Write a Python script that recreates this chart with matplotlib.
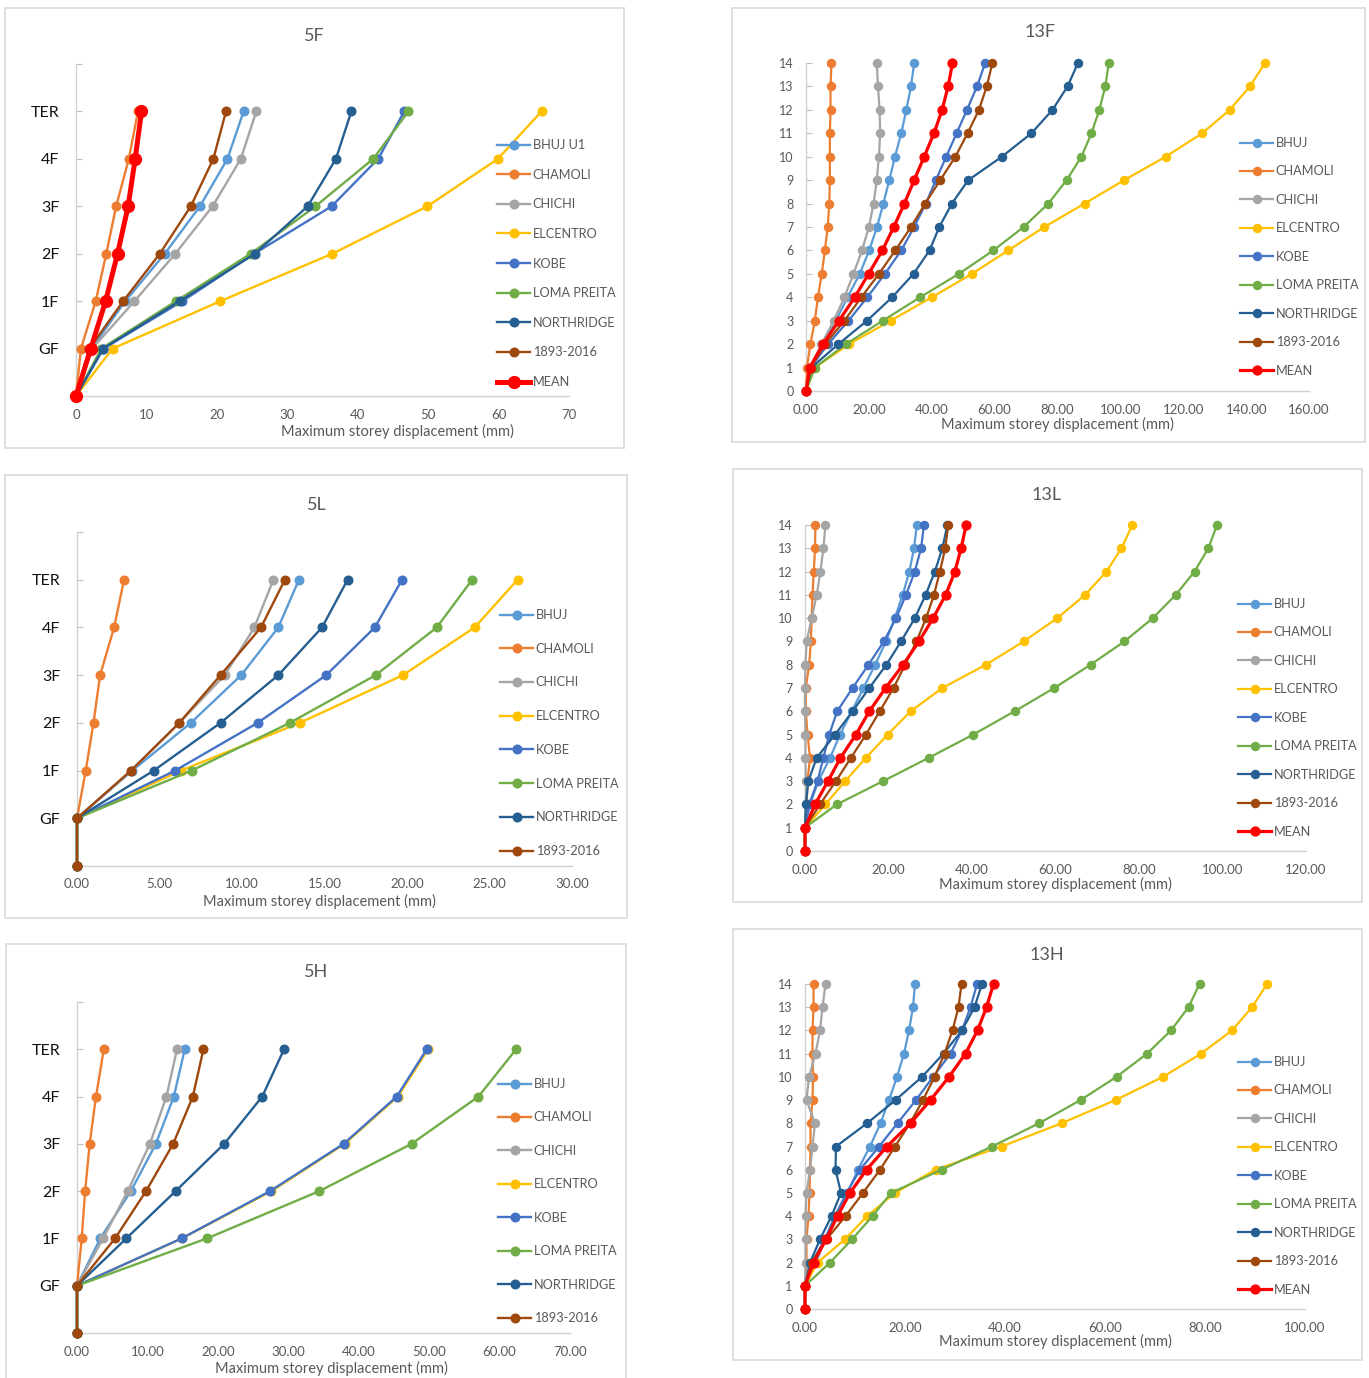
import matplotlib.pyplot as plt
from matplotlib.patches import Rectangle

plt.rcParams['font.family'] = ['Lato', 'DejaVu Sans']

W, H = 1369, 1378

COLORS = {
    'BHUJ': '#5B9BD5', 'BHUJ U1': '#5B9BD5', 'CHAMOLI': '#ED7D31', 'CHICHI': '#A5A5A5',
    'ELCENTRO': '#FFC000', 'KOBE': '#4472C4', 'LOMA PREITA': '#70AD47',
    'NORTHRIDGE': '#255E91', '1893-2016': '#9E480E', 'MEAN': '#FF0000',
}

STOREYS_5 = ['', 'GF', '1F', '2F', '3F', '4F', 'TER']
FLOORS_13 = list(range(15))
XLABEL = 'Maximum storey displacement (mm)'

# 5-storey, F
disp_5f = {
    'BHUJ U1': [0, 2.2, 7.0, 12.6, 17.6, 21.5, 23.8],
    'CHAMOLI': [0, 0.7, 2.8, 4.3, 5.7, 7.5, 8.8],
    'CHICHI': [0, 2.3, 8.3, 14.1, 19.4, 23.4, 25.6],
    'ELCENTRO': [0, 5.2, 20.5, 36.4, 49.9, 59.9, 66.1],
    'KOBE': [0, 3.9, 15.1, 25.3, 36.3, 42.9, 46.6],
    'LOMA PREITA': [0, 3.6, 14.2, 24.8, 34.0, 42.2, 47.2],
    'NORTHRIDGE': [0, 3.85, 14.7, 25.4, 32.9, 36.9, 39.1],
    '1893-2016': [0, 1.9, 6.7, 11.9, 16.3, 19.5, 21.3],
    'MEAN': [0, 2.1, 4.2, 5.9, 7.4, 8.4, 9.3],
}

# 5-storey, L
disp_5l = {
    'BHUJ': [0, 0, 3.35, 6.9, 9.95, 12.2, 13.45],
    'CHAMOLI': [0, 0, 0.53, 1.0, 1.4, 2.25, 2.85],
    'CHICHI': [0, 0, 3.3, 6.2, 8.95, 10.75, 11.9],
    'ELCENTRO': [0, 0, 6.3, 13.5, 19.75, 24.1, 26.7],
    'KOBE': [0, 0, 5.95, 10.95, 15.1, 18.05, 19.7],
    'LOMA PREITA': [0, 0, 6.95, 12.9, 18.1, 21.8, 23.95],
    'NORTHRIDGE': [0, 0, 4.65, 8.7, 12.2, 14.85, 16.4],
    '1893-2016': [0, 0, 3.27, 6.2, 8.7, 11.15, 12.6],
}

# 5-storey, H
disp_5h = {
    'BHUJ': [0, 0, 3.3, 7.65, 11.2, 13.75, 15.3],
    'CHAMOLI': [0, 0, 0.67, 1.15, 1.8, 2.7, 3.8],
    'CHICHI': [0, 0, 3.7, 7.2, 10.35, 12.7, 14.2],
    'ELCENTRO': [0, 0, 14.9, 27.6, 38.0, 45.55, 49.85],
    'KOBE': [0, 0, 14.85, 27.4, 37.85, 45.4, 49.65],
    'LOMA PREITA': [0, 0, 18.45, 34.4, 47.5, 57.0, 62.35],
    'NORTHRIDGE': [0, 0, 7.0, 14.0, 20.9, 26.3, 29.4],
    '1893-2016': [0, 0, 5.4, 9.8, 13.65, 16.45, 17.95],
}

# 13-storey, F
disp_13f = {
    'BHUJ': [0, 1.4, 5.6, 9.5, 13.2, 17.1, 20.1, 22.6, 24.6, 26.5, 28.3, 30.3, 31.9, 33.4, 34.4],
    'CHAMOLI': [0, 0.3, 1.4, 2.8, 3.8, 5.0, 6.0, 6.9, 7.4, 7.6, 7.6, 7.6, 7.8, 7.8, 8.1],
    'CHICHI': [0, 1.4, 4.9, 8.8, 12.2, 15.1, 17.8, 20.0, 21.5, 22.5, 23.2, 23.6, 23.4, 22.9, 22.5],
    'ELCENTRO': [0, 2.8, 13.7, 26.9, 40.0, 52.8, 64.3, 75.8, 88.6, 101.2, 114.4, 126.0, 134.8, 141.2, 146.0],
    'KOBE': [0, 1.4, 7.0, 13.5, 19.5, 25.1, 30.3, 34.4, 38.1, 41.3, 44.6, 47.9, 51.2, 54.4, 57.0],
    'LOMA PREITA': [0, 2.8, 12.7, 24.4, 36.3, 48.6, 59.6, 69.2, 77.1, 82.9, 87.6, 90.8, 93.3, 95.2, 96.3],
    'NORTHRIDGE': [0, 1.7, 10.3, 19.4, 27.4, 34.2, 39.3, 42.4, 46.4, 51.6, 62.3, 71.7, 78.4, 83.2, 86.5],
    '1893-2016': [0, 1.5, 6.1, 12.2, 17.6, 23.2, 28.4, 33.4, 37.9, 42.7, 47.5, 51.4, 55.0, 57.5, 59.3],
    'MEAN': [0, 1.2, 5.4, 10.5, 15.5, 19.9, 24.3, 27.9, 31.3, 34.4, 37.6, 40.7, 43.3, 45.2, 46.6],
}

# 13-storey, L
disp_13l = {
    'BHUJ': [0, 0, 1.2, 3.2, 6.0, 8.4, 11.2, 14.0, 16.8, 19.4, 21.5, 23.4, 25.0, 26.1, 26.8],
    'CHAMOLI': [0, 0, 0.4, 0.6, 1.2, 0.6, 0.2, 0.2, 1.0, 1.4, 1.6, 1.8, 2.1, 2.4, 2.5],
    'CHICHI': [0, 0, 0.2, 0.2, 0.1, 0.1, 0, 0, 0.1, 0.4, 1.6, 2.8, 3.7, 4.4, 4.9],
    'ELCENTRO': [0, 0, 4.9, 9.6, 14.6, 19.8, 25.3, 32.9, 43.3, 52.4, 60.4, 67.1, 72.2, 75.8, 78.4],
    'KOBE': [0, 0, 1.0, 3.0, 4.4, 5.8, 7.7, 11.4, 15.2, 18.9, 21.8, 24.2, 26.3, 27.8, 28.5],
    'LOMA PREITA': [0, 0, 7.6, 18.7, 29.6, 40.3, 50.2, 59.7, 68.4, 76.5, 83.3, 88.8, 93.3, 96.6, 98.7],
    'NORTHRIDGE': [0, 0, 0.2, 0.8, 2.8, 7.2, 11.4, 15.4, 19.5, 23.0, 26.3, 28.9, 31.1, 32.9, 34.1],
    '1893-2016': [0, 0, 3.6, 7.4, 11.0, 14.6, 17.9, 21.2, 24.0, 26.7, 29.0, 30.9, 32.3, 33.6, 34.3],
    'MEAN': [0, 0, 2.4, 5.5, 8.5, 12.2, 15.4, 19.3, 23.5, 27.3, 30.7, 33.7, 35.9, 37.4, 38.6],
}

# 13-storey, H
disp_13h = {
    'BHUJ': [0, 0, 2.2, 4.0, 6.0, 8.5, 10.6, 13.0, 15.1, 16.8, 18.4, 19.8, 20.8, 21.6, 22.0],
    'CHAMOLI': [0, 0, 0.3, 0.3, 0.7, 0.9, 1.0, 1.1, 1.1, 1.5, 1.6, 1.5, 1.5, 1.7, 1.7],
    'CHICHI': [0, 0, 0.1, 0.1, 0.1, 0.3, 1.0, 1.5, 2.0, 0.3, 0.8, 2.1, 3.0, 3.5, 4.1],
    'ELCENTRO': [0, 0, 2.5, 8.0, 12.4, 18.0, 26.1, 39.3, 51.3, 62.1, 71.6, 79.2, 85.4, 89.4, 92.4],
    'KOBE': [0, 0, 1.3, 4.0, 6.0, 8.3, 11.0, 14.8, 18.5, 22.2, 25.6, 29.1, 31.4, 33.1, 34.4],
    'LOMA PREITA': [0, 0, 5.0, 9.4, 13.5, 17.2, 27.3, 37.4, 46.8, 55.1, 62.3, 68.4, 73.2, 76.7, 78.9],
    'NORTHRIDGE': [0, 0, 1.0, 3.0, 5.3, 7.2, 6.1, 6.2, 12.4, 18.1, 23.4, 27.7, 31.4, 33.9, 35.4],
    '1893-2016': [0, 0, 1.3, 4.3, 8.1, 11.6, 15.0, 18.0, 21.0, 23.6, 25.9, 27.9, 29.5, 30.7, 31.3],
    'MEAN': [0, 0, 1.7, 4.2, 6.5, 9.0, 12.3, 16.4, 21.1, 25.1, 28.8, 32.1, 34.5, 36.3, 37.7],
}


def fx(x):
    return x / W


def fy(y):
    return 1 - y / H


def panel(fig, frame, box, title_xy, xlab_xy, data, xmax, xstep, xfmt,
          kind, leg_xy, leg_space, title):
    x0, y0, x1, y1 = frame
    fig.patches.append(Rectangle((fx(x0), fy(y1)), fx(x1 - x0), (y1 - y0) / H,
                                 transform=fig.transFigure, fill=False,
                                 edgecolor='#D9D9D9', lw=1.2))
    left, right, top, bottom = box
    ax = fig.add_axes([fx(left), fy(bottom), fx(right - left), (bottom - top) / H])
    big = kind == '5'
    for name, vals in data.items():
        mean = name == 'MEAN'
        if big:
            y = list(range(len(vals)))
            lw, ms = (3.6, 8.5) if mean else (1.7, 6.2)
        else:
            y = FLOORS_13
            lw, ms = (2.3, 6.4) if mean else (1.6, 5.8)
        ax.plot(vals, y, color=COLORS[name], lw=lw, marker='o', ms=ms,
                label=name, clip_on=False, zorder=3)

    ax.set_xlim(0, xmax)
    xt = list(range(0, xmax + 1, xstep))
    ax.set_xticks(xt)
    ax.set_xticklabels([xfmt.format(v) for v in xt])
    if big:
        ax.set_ylim(0, 7)
        ax.set_yticks(range(8))
        ax.set_yticklabels(STOREYS_5 + [''])
        ax.tick_params(axis='y', labelsize=11.5, labelcolor='#111111', pad=12)
    else:
        ax.set_ylim(0, 14)
        ax.set_yticks(FLOORS_13)
        ax.tick_params(axis='y', labelsize=9, labelcolor='#595959', pad=9)
    ax.tick_params(axis='y', direction='in', length=4, color='#BFBFBF', width=0.8)
    ax.tick_params(axis='x', length=0, labelsize=9.5, labelcolor='#595959', pad=9)
    for s in ['top', 'right']:
        ax.spines[s].set_visible(False)
    for s in ['left', 'bottom']:
        ax.spines[s].set_color('#D0D0D0')
        ax.spines[s].set_linewidth(1.0)

    fig.text(fx(title_xy[0]), fy(title_xy[1]), title, ha='center', va='center',
             fontsize=13, color='#595959')
    fig.text(fx(xlab_xy[0]), fy(xlab_xy[1]), XLABEL, ha='center', va='center',
             fontsize=10.5, color='#595959')
    leg = ax.legend(loc='upper left', bbox_to_anchor=(fx(leg_xy[0]), fy(leg_xy[1])),
                    bbox_transform=fig.transFigure, frameon=False, fontsize=9.2,
                    handlelength=2.6, handletextpad=0.2, borderpad=0, borderaxespad=0,
                    labelspacing=leg_space)
    for t in leg.get_texts():
        t.set_color('#595959')
    return ax


fig = plt.figure(figsize=(W / 100, H / 100), dpi=100)

panel(fig, (5, 8, 624, 448), (76, 569, 64, 396), (314, 36), (397, 431),
      disp_5f, 70, 10, '{:d}', '5', (497, 139), 1.38, '5F')
panel(fig, (732, 8, 1365, 442), (806, 1309, 63, 391), (1040, 32), (1057, 424),
      disp_13f, 160, 20, '{:.2f}', '13', (1240, 137), 1.29, '13F')
panel(fig, (5, 475, 627, 918), (77, 572, 532, 866), (317, 505), (319, 901),
      disp_5l, 30, 5, '{:.2f}', '5', (500, 609), 1.7, '5L')
panel(fig, (733, 469, 1362, 902), (805, 1306, 525, 851), (1047, 495), (1055, 884),
      disp_13l, 120, 20, '{:.2f}', '13', (1238, 598), 1.29, '13L')
panel(fig, (6, 944, 626, 1390), (77, 570, 1002, 1333), (316, 972), (331, 1368),
      disp_5h, 70, 10, '{:.2f}', '5', (498, 1078), 1.68, '5H')
panel(fig, (733, 929, 1362, 1360), (805, 1305, 984, 1309), (1047, 955), (1055, 1341),
      disp_13h, 100, 20, '{:.2f}', '13', (1238, 1056), 1.29, '13H')

fig.savefig('out.png', dpi=100)
